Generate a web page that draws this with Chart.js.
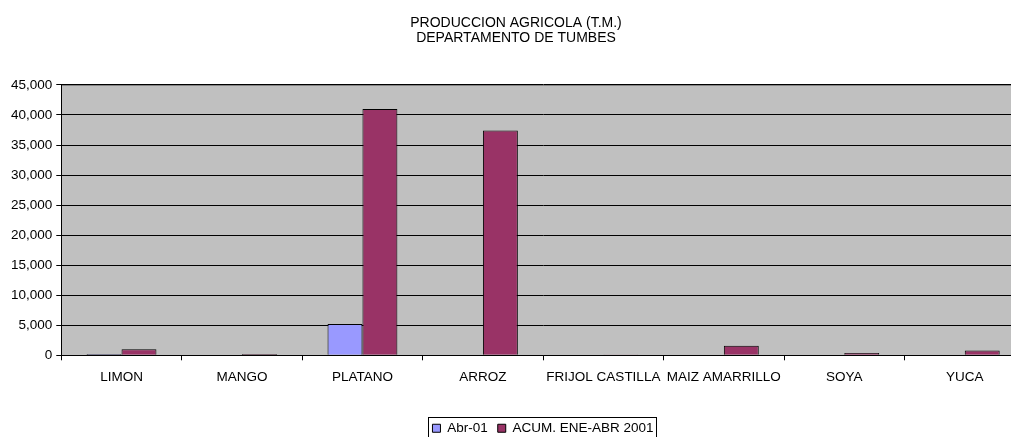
<!DOCTYPE html>
<html>
<head>
  <title>Produccion Agricola Tumbes</title>
  <script src="https://cdn.jsdelivr.net/npm/chart.js"></script>
  <style>
    body { margin: 0; background: #fff; overflow: hidden; }
  </style>
</head>
<body>
  <!-- el grafico original sale cortado por la derecha -->
  <canvas id="grafico" width="1025" height="437"></canvas>

  <script>
    const categorias = ['LIMON', 'MANGO', 'PLATANO', 'ARROZ', 'FRIJOL CASTILLA', 'MAIZ AMARRILLO', 'SOYA', 'YUCA'];
    const abr01 = [200, 0, 5200, 0, 0, 100, 0, 100];
    const acumulado = [1000, 200, 41000, 37400, 150, 1600, 400, 800];
    const titulo = ['PRODUCCION AGRICOLA (T.M.)', 'DEPARTAMENTO DE TUMBES'];

    const fuente = 'Liberation Sans, Arial, sans-serif';

    // fondo gris del area de trazado y marco de la leyenda
    const fondoPlot = {
      id: 'fondoPlot',
      afterLayout(chart) {
        // la leyenda del original esta corrida a la derecha
        chart.legend.left += 27;
        chart.legend.right += 27;
      },
      beforeDraw(chart) {
        const { ctx, chartArea: a } = chart;
        ctx.save();
        ctx.fillStyle = '#c0c0c0';
        ctx.fillRect(a.left, a.top, a.right - a.left, a.bottom - a.top);
        ctx.strokeStyle = '#808080';
        ctx.lineWidth = 1;
        ctx.beginPath();
        ctx.moveTo(a.left, a.top + 0.5);
        ctx.lineTo(a.right, a.top + 0.5);
        ctx.stroke();
        ctx.restore();
      },
      afterDraw(chart) {
        const l = chart.legend;
        const ctx = chart.ctx;
        const items = l.legendHitBoxes;
        if (!items || !items.length) return;
        const x0 = items[0].left - 4;
        const last = items[items.length - 1];
        const x1 = last.left + last.width + 3;
        const y0 = items[0].top - 4;
        const y1 = items[0].top + items[0].height + 6;
        ctx.save();
        ctx.strokeStyle = '#000';
        ctx.lineWidth = 1;
        ctx.strokeRect(Math.round(x0) + 0.5, Math.round(y0) + 0.5, Math.round(x1 - x0), Math.round(y1 - y0));
        ctx.restore();
      }
    };

    const ctx = document.getElementById('grafico').getContext('2d');
    new Chart(ctx, {
      type: 'bar',
      data: {
        labels: categorias,
        datasets: [
          {
            label: 'Abr-01',
            data: abr01,
            backgroundColor: '#9999ff',
            borderColor: '#000',
            borderWidth: 1,
            categoryPercentage: 0.58,
            barPercentage: 1
          },
          {
            label: 'ACUM. ENE-ABR 2001',
            data: acumulado,
            backgroundColor: '#993366',
            borderColor: '#000',
            borderWidth: 1,
            categoryPercentage: 0.58,
            barPercentage: 1
          }
        ]
      },
      options: {
        responsive: false,
        animation: false,
        layout: { padding: { left: 7, right: 0, top: 16, bottom: -8 } },
        plugins: {
          title: {
            display: true,
            text: titulo,
            color: '#000',
            font: { family: fuente, size: 14, weight: 'normal', lineHeight: 1.07 },
            padding: { top: 0, bottom: 39 }
          },
          legend: {
            position: 'bottom',
            labels: {
              color: '#000',
              font: { family: fuente, size: 13.5 },
              boxWidth: 8,
              boxHeight: 8,
              padding: 10,
              generateLabels(chart) {
                return chart.data.datasets.map((d, i) => ({
                  text: d.label,
                  fillStyle: d.backgroundColor,
                  strokeStyle: '#000',
                  lineWidth: 1,
                  datasetIndex: i
                }));
              }
            }
          },
          tooltip: { enabled: false }
        },
        scales: {
          x: {
            offset: true,
            grid: {
              offset: true,
              drawOnChartArea: false,
              drawTicks: true,
              tickLength: 5,
              color: '#000'
            },
            border: { color: '#000' },
            ticks: {
              color: '#000',
              font: { family: fuente, size: 13.5 },
              maxRotation: 0,
              autoSkip: false,
              padding: 9
            },
            afterFit(scale) { scale.height += 17; }
          },
          y: {
            min: 0,
            max: 45000,
            grid: {
              color: '#000',
              tickLength: 5
            },
            border: { color: '#000' },
            ticks: {
              stepSize: 5000,
              color: '#000',
              font: { family: fuente, size: 13.5 },
              padding: 4,
              callback: v => v.toLocaleString('en-US')
            }
          }
        }
      },
      plugins: [fondoPlot]
    });
  </script>
</body>
</html>
